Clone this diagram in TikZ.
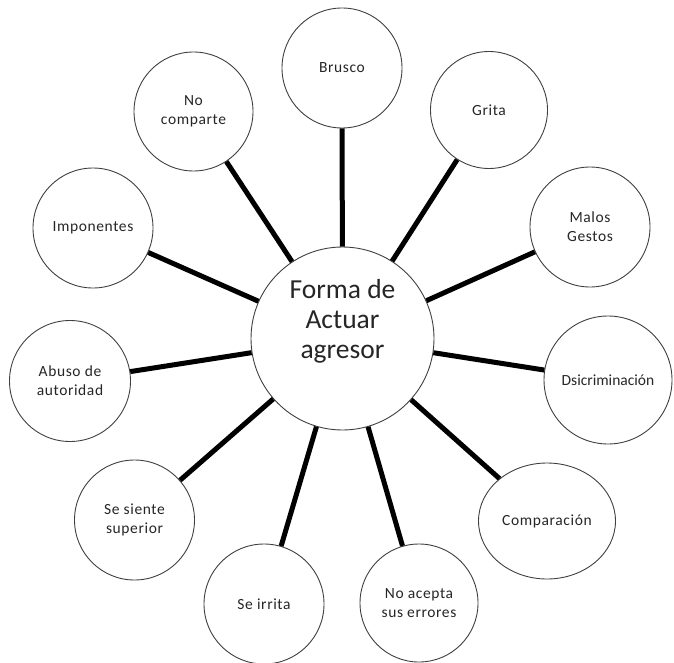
\documentclass[tikz,border=0pt]{standalone}
\usepackage{fontspec}
\setmainfont{Carlito}
\newfontfamily\bubblefont[LetterSpace=4]{Carlito}
\usetikzlibrary{shapes.geometric}
\begin{document}
\begin{tikzpicture}[x=1pt,y=-1pt,
  bubble/.style={circle,draw=black!75,line width=0.9pt,fill=white,inner sep=0pt,
    minimum size=120pt,align=center,font=\bubblefont\fontsize{15.5}{19}\selectfont,text=black!85},
  hub/.style={circle,draw=black!75,line width=0.9pt,fill=white,inner sep=0pt,minimum size=183pt},
  hubtext/.style={align=center,font=\fontsize{27.5}{30}\selectfont,text=black!85,inner sep=0pt},
  spoke/.style={line width=5pt,black}]
\useasboundingbox (0,0) rectangle (674,663);
\node[hub] (c) at (342.5,338.5) {};
\node[bubble] (brusco) at (342,68) {Brusco};
\node[bubble,minimum size=117pt] (grita) at (489,110) {Grita};
\node[bubble] (malos) at (590,227) {Malos\\Gestos};
\node[bubble,minimum size=128pt,font=\fontsize{15.5}{19}\selectfont] (dsc) at (608,380) {Dsicriminación};
\node[ellipse,draw=black!75,line width=0.9pt,fill=white,inner sep=0pt,minimum width=137pt,minimum height=116pt,
  font=\bubblefont\fontsize{15.5}{19}\selectfont,text=black!85] (comp) at (547,521) {Comparación};
\node[bubble,minimum size=118pt] (acepta) at (419,603) {No acepta\\sus errores};
\node[bubble] (irrita) at (264,604) {Se irrita};
\node[bubble] (siente) at (134.5,520) {Se siente\\superior};
\node[bubble,minimum size=121pt] (abuso) at (70,381) {Abuso de\\autoridad};
\node[bubble] (impon) at (93,228) {Imponentes};
\node[bubble,minimum size=119pt] (nocomp) at (193.5,111.5) {No\\comparte};
\foreach \n in {brusco,grita,malos,dsc,comp,acepta,irrita,siente,abuso,impon,nocomp}
  \draw[spoke] (c) -- (\n);
\node[hubtext] (ct) at (342.5,321) {Forma de\\Actuar\\agresor};
\end{tikzpicture}
\end{document}
